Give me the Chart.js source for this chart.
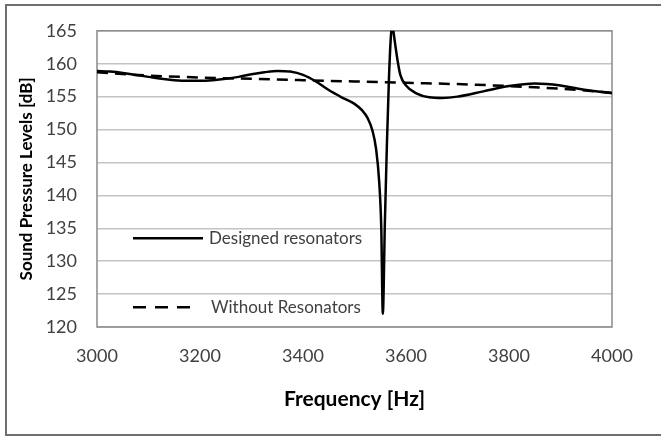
<!DOCTYPE html>
<html>
<head>
<meta charset="utf-8">
<script src="https://cdn.jsdelivr.net/npm/chart.js@4"></script>
<style>
  html, body { margin: 0; padding: 0; background: #fff; }
  #wrap { position: relative; width: 661px; height: 438px; }
</style>
</head>
<body>
<div id="wrap"><canvas id="c" width="661" height="438"></canvas></div>
<script>
// ---- data ----
const freqDesigned = [3000,3025,3050,3075,3100,3125,3150,3175,3200,3225,3250,3275,3300,3325,3350,3375,3400,3425,3450,3475,3500,3515,3525,3535,3542,3548,3552,3555,3559,3563,3567,3571,3574,3578,3583,3589,3600,3620,3645,3670,3700,3750,3800,3850,3900,3950,4000];
const splDesigned  = [158.9,158.8,158.6,158.3,158.0,157.7,157.5,157.4,157.4,157.5,157.7,158.0,158.4,158.7,158.9,158.8,158.3,157.3,156.0,154.9,153.9,152.9,151.8,149.8,147.0,142.0,135.0,122.0,136.0,148.0,158.0,164.5,165.5,163.5,160.8,158.3,156.7,155.5,154.9,154.8,155.0,155.8,156.6,157.0,156.7,156.0,155.5];
const freqWithout  = [3000,3100,3200,3300,3400,3500,3600,3700,3800,3900,4000];
const splWithout   = [158.7,158.2,157.9,157.7,157.5,157.3,157.1,156.9,156.6,156.2,155.6];
const xTickValues  = [3000,3200,3400,3600,3800,4000];
const yTickValues  = [120,125,130,135,140,145,150,155,160,165];
const seriesNames  = ['Designed resonators','Without Resonators'];
const xTitle = 'Frequency [Hz]';
const yTitle = 'Sound Pressure Levels [dB]';

const toPts = (xs, ys) => xs.map((x, i) => ({x, y: ys[i]}));
const FONT = 'Lato, Calibri, Carlito, sans-serif';
const TXT = '#404040';

const framePlugin = {
  id: 'frame',
  beforeDraw(chart) {
    const ctx = chart.ctx;
    ctx.save();
    ctx.strokeStyle = '#6e6e6e';
    ctx.lineWidth = 2;
    ctx.beginPath();
    ctx.moveTo(6, 436); ctx.lineTo(6, 5); ctx.lineTo(661, 5);
    ctx.moveTo(6, 435); ctx.lineTo(661, 435);
    ctx.stroke();
    ctx.restore();
  },
  beforeDatasetsDraw(chart) {
    const {ctx, chartArea: a} = chart;
    ctx.save();
    ctx.strokeStyle = '#8a8a8a';
    ctx.lineWidth = 1.5;
    ctx.strokeRect(a.left, a.top, a.right - a.left, a.bottom - a.top);
    ctx.restore();
  },
  afterDraw(chart) {
    const ctx = chart.ctx;
    const ys = chart.scales.y;
    const items = [
      {name: seriesNames[0], dash: [], yv: 133.5, x0: 133, x1: 203, tx: 209},
      {name: seriesNames[1], dash: [13, 9], yv: 123, x0: 133, x1: 194, tx: 211}
    ];
    ctx.save();
    items.forEach(it => {
      const y = ys.getPixelForValue(it.yv);
      ctx.strokeStyle = '#000';
      ctx.lineWidth = 2.5;
      ctx.setLineDash(it.dash);
      ctx.beginPath(); ctx.moveTo(it.x0, y); ctx.lineTo(it.x1, y); ctx.stroke();
      ctx.setLineDash([]);
      ctx.fillStyle = TXT;
      ctx.font = '17px ' + FONT;
      ctx.textBaseline = 'middle';
      ctx.textAlign = 'left';
      ctx.fillText(it.name, it.tx, y);
    });
    ctx.restore();
  }
};

new Chart(document.getElementById('c'), {
  type: 'line',
  data: {
    datasets: [
      {
        label: seriesNames[0],
        data: toPts(freqDesigned, splDesigned),
        borderColor: '#000',
        borderWidth: 2.5,
        pointRadius: 0,
        cubicInterpolationMode: 'monotone',
        fill: false
      },
      {
        label: seriesNames[1],
        data: toPts(freqWithout, splWithout),
        borderColor: '#000',
        borderWidth: 2.5,
        borderDash: [11, 7],
        pointRadius: 0,
        cubicInterpolationMode: 'monotone',
        fill: false
      }
    ]
  },
  options: {
    responsive: false,
    animation: false,
    events: [],
    layout: { padding: { left: 0, top: 27, right: 49, bottom: 0 } },
    plugins: { legend: { display: false }, tooltip: { enabled: false } },
    scales: {
      x: {
        type: 'linear',
        min: 3000, max: 4000,
        afterBuildTicks(s) { s.ticks = xTickValues.map(v => ({value: v})); },
        afterFit(s) { s.height = 111; },
        grid: { display: false, drawTicks: false },
        border: { display: false },
        ticks: { color: TXT, font: { family: FONT, size: 18 }, padding: 18, maxRotation: 0,
                 callback: v => String(v) },
        title: { display: true, text: xTitle, color: '#000', font: { family: FONT, size: 21, weight: 'bold' }, padding: { top: 0, bottom: 26 } }
      },
      y: {
        min: 120, max: 165,
        afterBuildTicks(s) { s.ticks = yTickValues.map(v => ({value: v})); },
        afterFit(s) { s.width = 97; },
        grid: { color: '#c4c4c4', lineWidth: 1.5, drawTicks: false },
        border: { display: false },
        ticks: { color: TXT, font: { family: FONT, size: 18 }, padding: 20, callback: v => String(v) },
        title: { display: true, text: yTitle, color: '#000', font: { family: FONT, size: 17, weight: 'bold' }, padding: { top: 16, bottom: 0 } }
      }
    }
  },
  plugins: [framePlugin]
});
</script>
</body>
</html>
